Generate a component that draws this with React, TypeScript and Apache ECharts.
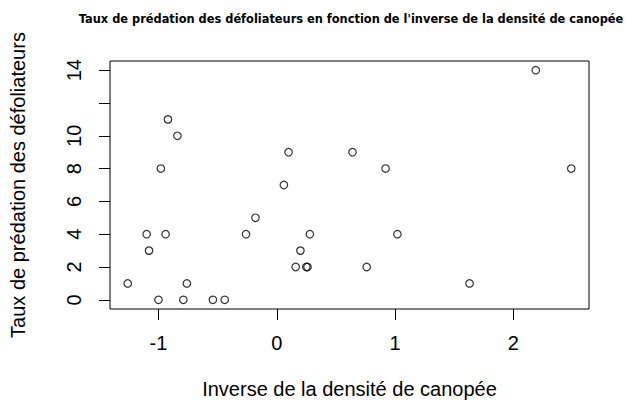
import React, { useEffect, useRef } from "react";
import * as echarts from "echarts";

const titleText =
  "Taux de prédation des défoliateurs en fonction de l'inverse de la densité de canopée";
const xName = "Inverse de la densité de canopée";
const yName = "Taux de prédation des défoliateurs";

const inverseDensity = [
  -1.26, -1.0, -0.79, -0.76, -0.54, -0.44, -1.1, -1.08, -0.94, -0.98, -0.92, -0.84,
  -0.26, -0.18, 0.06, 0.1, 0.16, 0.2, 0.25, 0.26, 0.28, 0.64, 0.76, 0.92, 1.02, 1.63,
  2.19, 2.49,
];
const predationRate = [
  1, 0, 0, 1, 0, 0, 4, 3, 4, 8, 11, 10, 4, 5, 7, 9, 2, 3, 2, 2, 4, 9, 2, 8, 4, 1, 14, 8,
];

const xTicks = [-1, 0, 1, 2];
const yTicks = [0, 2, 4, 6, 8, 10, 12, 14];
const yTickLabels = [0, 2, 4, 6, 8, 10, 14];

const FONT = "Liberation Sans, Arial, sans-serif";
const TITLE_FONT = "DejaVu Sans, Verdana, sans-serif";

export default function App() {
  const ref = useRef<HTMLDivElement>(null);
  useEffect(() => {
    if (!ref.current) return;
    const chart = echarts.init(ref.current, undefined, { renderer: "svg" });
    const xMin = Math.min(...inverseDensity);
    const xMax = Math.max(...inverseDensity);
    const yMin = Math.min(...predationRate);
    const yMax = Math.max(...predationRate);
    const xPad = (xMax - xMin) * 0.04;
    const yPad = (yMax - yMin) * 0.04;
    chart.setOption({
      animation: false,
      backgroundColor: "#ffffff",
      title: {
        text: titleText,
        left: 346,
        top: 8,
        textAlign: "center",
        textStyle: { fontFamily: TITLE_FONT, fontSize: 11.4, fontWeight: "bold", color: "#000" },
      },
      grid: {
        left: 107,
        right: 36,
        top: 61,
        bottom: 96,
        show: true,
        borderColor: "#000",
        borderWidth: 1,
        backgroundColor: "transparent",
      },
      xAxis: {
        type: "value",
        min: xMin - xPad,
        max: xMax + xPad,
        name: xName,
        nameLocation: "middle",
        nameGap: 70,
        nameTextStyle: { fontFamily: FONT, fontSize: 20, color: "#000" },
        axisLine: { show: false, onZero: false },
        splitLine: { show: false },
        axisTick: {
          show: true,
          length: 11,
          customValues: xTicks,
          lineStyle: { color: "#000", width: 1 },
        },
        axisLabel: {
          customValues: xTicks,
          margin: 24,
          fontFamily: FONT,
          fontSize: 20,
          color: "#000",
        },
      },
      yAxis: {
        type: "value",
        min: yMin - yPad,
        max: yMax + yPad,
        name: yName,
        nameLocation: "middle",
        nameGap: 82,
        nameTextStyle: { fontFamily: FONT, fontSize: 20, color: "#000" },
        axisLine: { show: false, onZero: false },
        splitLine: { show: false },
        axisTick: {
          show: true,
          length: 11,
          customValues: yTicks,
          lineStyle: { color: "#000", width: 1 },
        },
        axisLabel: {
          customValues: yTickLabels,
          rotate: 90,
          margin: 26,
          fontFamily: FONT,
          fontSize: 20,
          color: "#000",
        },
      },
      series: [
        {
          type: "scatter",
          data: inverseDensity.map((x, i) => [x, predationRate[i]]),
          symbol: "circle",
          symbolSize: 7.5,
          itemStyle: { color: "rgba(255,255,255,0)", borderColor: "#000", borderWidth: 1.2 },
        },
      ],
    });
    return () => chart.dispose();
  }, []);
  return (
    <div
      ref={ref}
      style={{ position: "fixed", left: 0, top: 0, width: 625, height: 405, background: "#fff" }}
    />
  );
}
